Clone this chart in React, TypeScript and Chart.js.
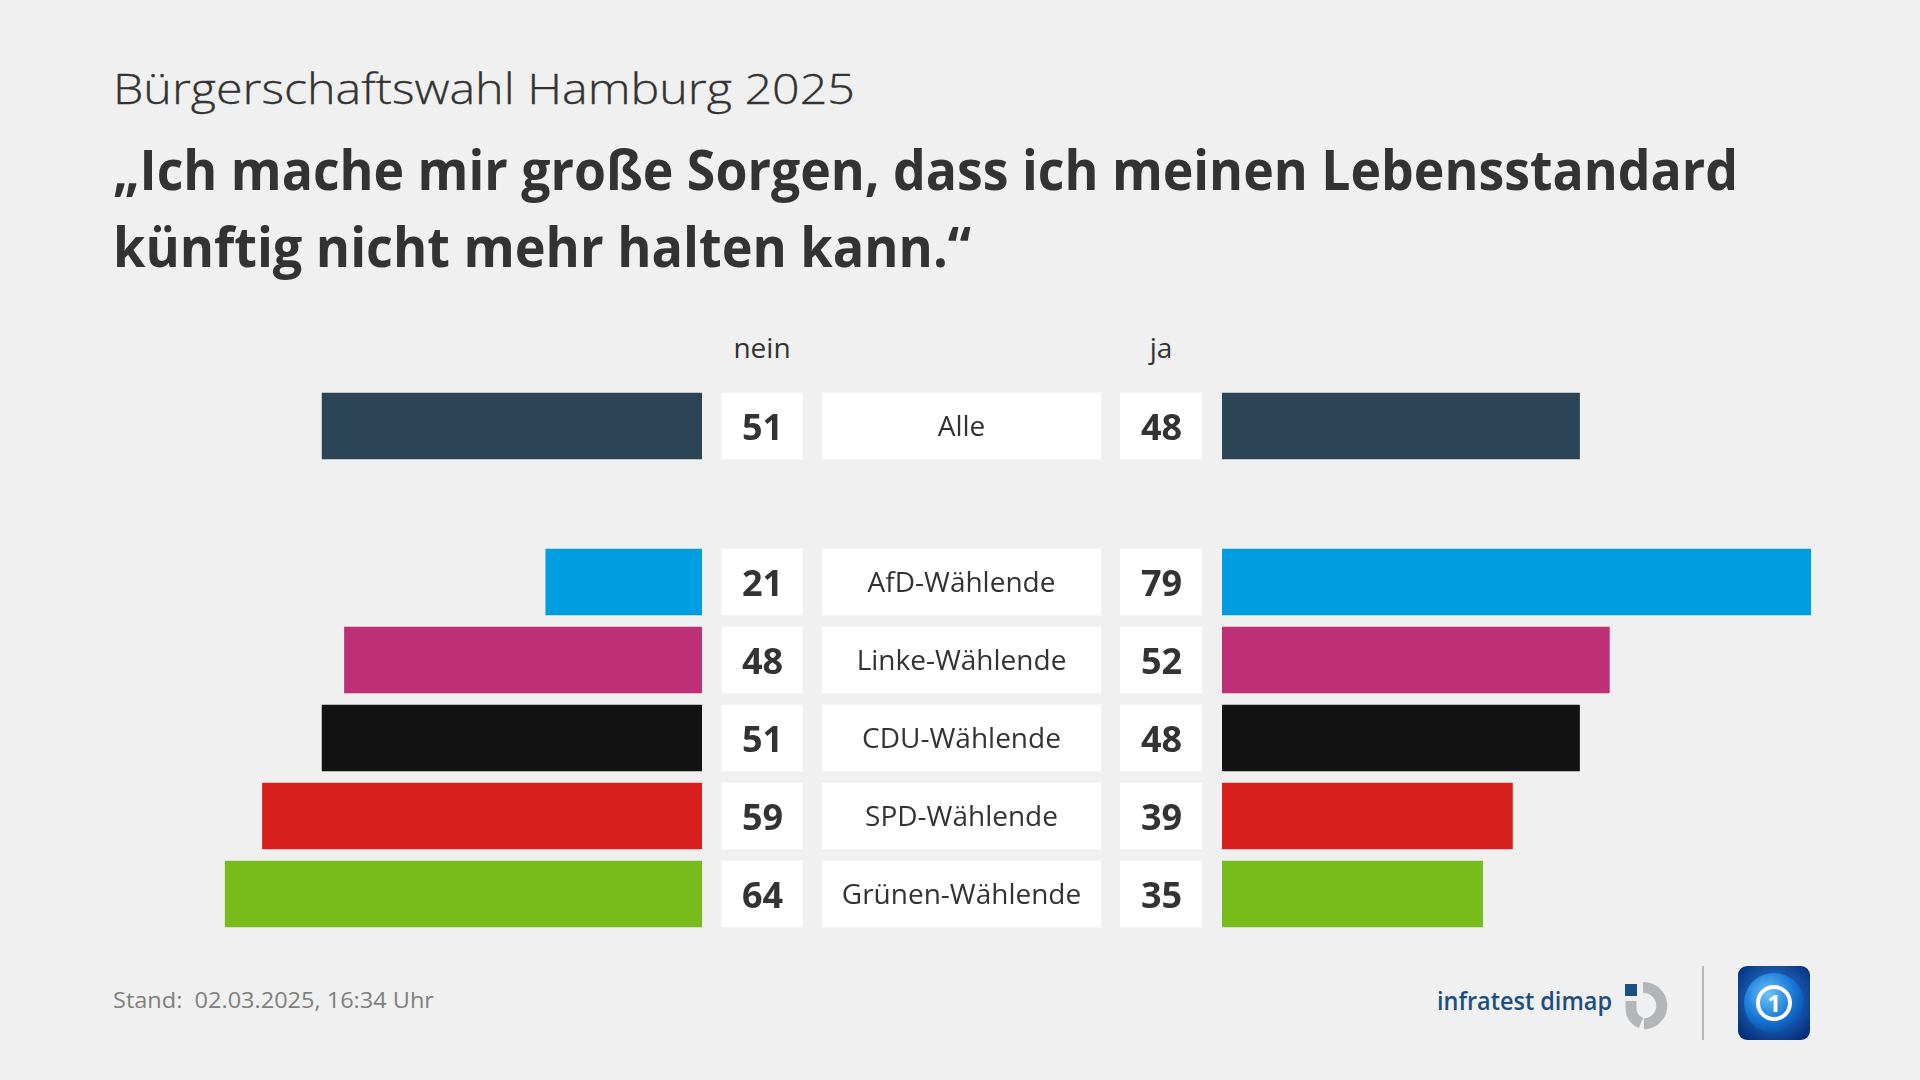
import React, { useEffect, useLayoutEffect, useRef } from 'react';
import { Chart, registerables } from 'chart.js';

Chart.register(...registerables);

// ---- data ----
const categories = ['Alle', 'AfD-Wählende', 'Linke-Wählende', 'CDU-Wählende', 'SPD-Wählende', 'Grünen-Wählende'];
const neinValues = [51, 21, 48, 51, 59, 64];
const jaValues = [48, 79, 52, 48, 39, 35];
const barColors = ['#2b4556', '#009ee0', '#be3075', '#121212', '#d7201d', '#78bc1c'];
const axisMax = 79;
const headerNein = 'nein';
const headerJa = 'ja';
const titleText = 'Bürgerschaftswahl Hamburg 2025';
const headlineLines = ['„Ich mache mir große Sorgen, dass ich meinen Lebensstandard', 'künftig nicht mehr halten kann.“'];
const footerText = 'Stand:  02.03.2025, 16:34 Uhr';

// rows: "Alle", an empty spacer row, then the party groups
const rowLabels: string[] = [categories[0], '', ...categories.slice(1)];
const rowNein: (number | null)[] = [neinValues[0], null, ...neinValues.slice(1)];
const rowJa: (number | null)[] = [jaValues[0], null, ...jaValues.slice(1)];
const rowColors: string[] = [barColors[0], 'rgba(0,0,0,0)', ...barColors.slice(1)];

const FONT = '"Open Sans", "Noto Sans", sans-serif';
const TEXT = '#333333';

const boxesPlugin = {
  id: 'rowBoxes',
  afterDatasetsDraw(chart: any) {
    const { ctx, chartArea } = chart;
    const meta = chart.getDatasetMeta(0);
    const x0 = chartArea.right;
    rowLabels.forEach((label, i) => {
      if (!label) return;
      const bar: any = meta.data[i];
      const h = bar.height;
      const top = bar.y - h / 2;
      ctx.save();
      ctx.fillStyle = '#ffffff';
      ctx.fillRect(x0 + 19.5, top, 81, h);
      ctx.fillRect(x0 + 120, top, 279, h);
      ctx.fillRect(x0 + 418, top, 82, h);
      ctx.fillStyle = TEXT;
      ctx.textAlign = 'center';
      ctx.textBaseline = 'alphabetic';
      ctx.font = `bold 36px ${FONT}`;
      ctx.fillText(String(rowNein[i]), x0 + 60.5, bar.y + 13.5);
      ctx.fillText(String(rowJa[i]), x0 + 459.5, bar.y + 13.5);
      ctx.font = `28px ${FONT}`;
      ctx.fillText(label, x0 + 259.5, bar.y + 10);
      ctx.restore();
    });
  },
};

function FitText({ text, left, top, width, style }: { text: string; left: number; top: number; width: number; style: React.CSSProperties }) {
  const ref = useRef<HTMLSpanElement>(null);
  useLayoutEffect(() => {
    const el = ref.current;
    if (!el) return;
    el.style.transform = 'none';
    const w = el.getBoundingClientRect().width;
    if (w > 0) el.style.transform = `scaleX(${width / w})`;
  }, [text, width]);
  return (
    <span
      ref={ref}
      style={{
        position: 'absolute',
        left,
        top,
        whiteSpace: 'pre',
        display: 'inline-block',
        transformOrigin: 'left top',
        lineHeight: 1,
        ...style,
      }}
    >
      {text}
    </span>
  );
}

export default function App() {
  const leftRef = useRef<HTMLCanvasElement>(null);
  const rightRef = useRef<HTMLCanvasElement>(null);

  useEffect(() => {
    document.body.style.margin = '0';
    const common = {
      indexAxis: 'y' as const,
      responsive: false,
      maintainAspectRatio: false,
      animation: false as const,
      plugins: { legend: { display: false }, tooltip: { enabled: false }, title: { display: false } },
    };
    const left = new Chart(leftRef.current!, {
      type: 'bar',
      data: {
        labels: rowLabels,
        datasets: [
          { data: rowNein, backgroundColor: rowColors, barPercentage: 0.855, categoryPercentage: 1, borderWidth: 0 },
        ],
      },
      options: {
        ...common,
        layout: { padding: { left: 0, right: 520, top: 0, bottom: 0 } },
        scales: {
          x: { display: false, reverse: true, min: 0, max: axisMax },
          y: { display: false },
        },
      },
      plugins: [boxesPlugin],
    } as any);
    const right = new Chart(rightRef.current!, {
      type: 'bar',
      data: {
        labels: rowLabels,
        datasets: [
          { data: rowJa, backgroundColor: rowColors, barPercentage: 0.855, categoryPercentage: 1, borderWidth: 0 },
        ],
      },
      options: {
        ...common,
        layout: { padding: 0 },
        scales: {
          x: { display: false, min: 0, max: axisMax },
          y: { display: false },
        },
      },
    } as any);
    return () => {
      left.destroy();
      right.destroy();
    };
  }, []);

  return (
    <div
      style={{
        position: 'fixed',
        left: 0,
        top: 0,
        width: 1920,
        height: 1080,
        background: '#f0f0f0',
        overflow: 'hidden',
        fontFamily: FONT,
        color: TEXT,
      }}
    >
      <FitText text={titleText} left={113} top={67} width={742} style={{ fontSize: 42, fontWeight: 300, WebkitTextStroke: '0.3px #333333' }} />
      <FitText text={headlineLines[0]} left={113} top={140.3} width={1625} style={{ fontSize: 56, fontWeight: 700 }} />
      <FitText text={headlineLines[1]} left={113} top={217.3} width={858} style={{ fontSize: 56, fontWeight: 700 }} />

      <div style={{ position: 'absolute', left: 702, width: 120, top: 333, fontSize: 28, lineHeight: 1, textAlign: 'center' }}>
        {headerNein}
      </div>
      <div style={{ position: 'absolute', left: 1101, width: 120, top: 333, fontSize: 28, lineHeight: 1, textAlign: 'center' }}>
        {headerJa}
      </div>

      <canvas ref={leftRef} width={1109} height={546} style={{ position: 'absolute', left: 113, top: 387, width: 1109, height: 546 }} />
      <canvas ref={rightRef} width={589} height={546} style={{ position: 'absolute', left: 1222, top: 387, width: 589, height: 546 }} />

      <FitText text={footerText} left={113} top={988} width={321} style={{ fontSize: 22, color: '#7f7f7f' }} />

      <FitText text="infratest dimap" left={1437} top={987} width={175} style={{ fontSize: 26, fontWeight: 600, color: '#1b4f80' }} />
      <svg style={{ position: 'absolute', left: 1622, top: 980 }} width={52} height={52} viewBox="0 0 52 52">
        <path d="M 21 7.5 A 17 17 0 1 1 22 44" fill="none" stroke="#b3b6b8" strokeWidth={11} />
        <path d="M 9 21 L 9 30 A 17 17 0 0 0 19 43" fill="none" stroke="#b3b6b8" strokeWidth={11} />
        <rect x={3} y={4} width={12} height={12} fill="#1d4f80" />
      </svg>
      <div style={{ position: 'absolute', left: 1702, top: 966, width: 2, height: 74, background: '#b8b8b8' }} />
      <svg style={{ position: 'absolute', left: 1738, top: 966 }} width={72} height={74} viewBox="0 0 72 74">
        <defs>
          <radialGradient id="tsBg" cx="50%" cy="45%" r="65%">
            <stop offset="0%" stopColor="#2f8fe6" />
            <stop offset="100%" stopColor="#062f7d" />
          </radialGradient>
          <radialGradient id="tsGlobe" cx="40%" cy="35%" r="70%">
            <stop offset="0%" stopColor="#6cc4f7" />
            <stop offset="60%" stopColor="#1a7ad8" />
            <stop offset="100%" stopColor="#0a4aa6" />
          </radialGradient>
        </defs>
        <rect x={0} y={0} width={72} height={74} rx={9} fill="url(#tsBg)" />
        <circle cx={36} cy={37} r={30} fill="url(#tsGlobe)" />
        <circle cx={36} cy={37} r={16} fill="none" stroke="#ffffff" strokeWidth={4} />
        <text x={36} y={46} textAnchor="middle" fontSize={24} fontWeight={700} fill="#ffffff" fontFamily={FONT}>1</text>
      </svg>
    </div>
  );
}
